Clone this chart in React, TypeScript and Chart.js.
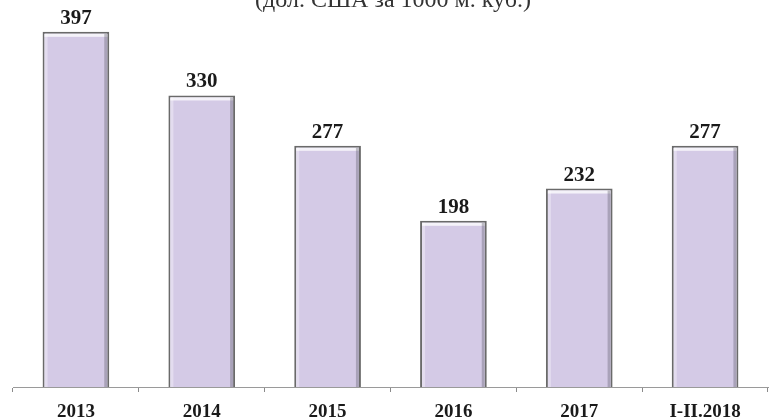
import React, { useEffect, useRef } from "react";
import { Chart, registerables } from "chart.js";

Chart.register(...registerables);

const titleText = "(дол. США за 1000 м. куб.)";
const categories = ["2013", "2014", "2015", "2016", "2017", "I-II.2018"];
const values = [397, 330, 277, 198, 232, 277];

const serif = "'Liberation Serif', 'Times New Roman', serif";

const decorPlugin = {
  id: "decor",
  afterDatasetsDraw(chart: any) {
    const ctx = chart.ctx;
    const meta = chart.getDatasetMeta(0);
    const bottom = chart.chartArea.bottom;
    ctx.save();
    meta.data.forEach((bar: any, i: number) => {
      const { x, y, width, base } = bar.getProps(["x", "y", "width", "base"], true);
      const b = Math.min(base, bottom);
      const l = x - width / 2;
      const r = x + width / 2;
      ctx.fillStyle = "rgba(255,255,255,0.75)";
      ctx.fillRect(l + 2, y + 2, width - 4, 3);
      ctx.fillStyle = "rgba(255,255,255,0.35)";
      ctx.fillRect(l + 2, y + 2, 3, b - y - 2);
      ctx.fillStyle = "rgba(90,90,100,0.35)";
      ctx.fillRect(r - 5, y + 2, 3, b - y - 2);
      ctx.fillStyle = "#1a1a1a";
      ctx.font = `bold 21px ${serif}`;
      ctx.textAlign = "center";
      ctx.textBaseline = "alphabetic";
      ctx.fillText(String(values[i]), x, y - 8);
    });
    ctx.fillStyle = "#333333";
    ctx.font = `24px ${serif}`;
    ctx.textAlign = "center";
    ctx.textBaseline = "alphabetic";
    ctx.fillText(titleText, 393, 7);
    ctx.restore();
  },
};

export default function App() {
  const ref = useRef<HTMLCanvasElement | null>(null);
  useEffect(() => {
    if (!ref.current) return;
    const chart = new Chart(ref.current, {
      type: "bar",
      data: {
        labels: categories,
        datasets: [
          {
            data: values,
            backgroundColor: "#d4cae6",
            borderColor: "#6a6a6a",
            borderWidth: 2,
            borderSkipped: "bottom",
            categoryPercentage: 1,
            barPercentage: 0.53,
          },
        ],
      },
      options: {
        animation: false,
        responsive: false,
        maintainAspectRatio: false,
        layout: { padding: { left: 13, right: 11, top: 10, bottom: 0 } },
        plugins: {
          legend: { display: false },
          title: { display: false },
          tooltip: { enabled: false },
        },
        scales: {
          x: {
            offset: true,
            afterFit: (scale: any) => {
              scale.height = 32;
            },
            grid: {
              offset: true,
              drawOnChartArea: false,
              drawTicks: true,
              tickLength: 5,
              color: "#8a8a8a",
            },
            border: { display: true, color: "#9a9a9a", width: 1 },
            ticks: {
              color: "#1a1a1a",
              padding: 11,
              font: { family: serif, size: 19, weight: "bold", lineHeight: 1 },
              maxRotation: 0,
              autoSkip: false,
            },
          },
          y: {
            display: false,
            min: 23,
            max: 420,
          },
        },
      },
      plugins: [decorPlugin],
    });
    return () => chart.destroy();
  }, []);
  return (
    <div style={{ position: "fixed", left: 0, top: 0, width: 779, height: 419, background: "#ffffff" }}>
      <canvas ref={ref} width={779} height={419} style={{ width: 779, height: 419 }} />
    </div>
  );
}
